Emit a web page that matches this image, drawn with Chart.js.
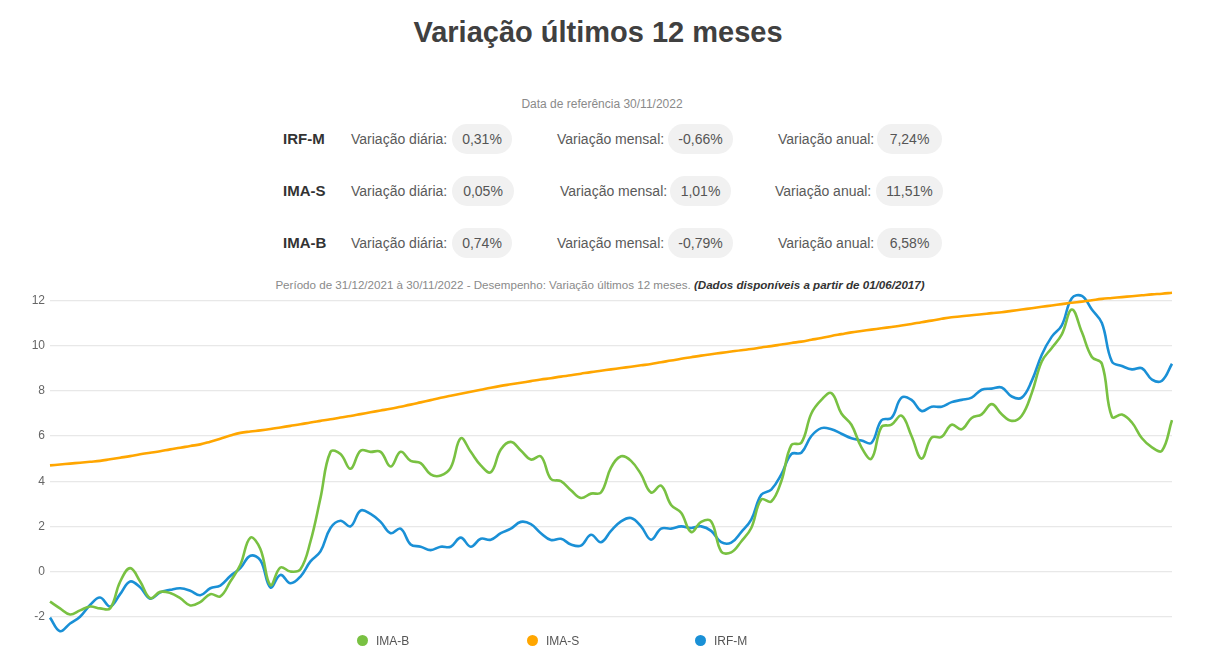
<!DOCTYPE html>
<html>
<head>
<meta charset="utf-8">
<script src="https://cdn.jsdelivr.net/npm/chart.js@4/dist/chart.umd.min.js"></script>
<style>
  html, body { margin:0; padding:0; background:#fff; }
  body { width:1212px; height:654px; position:relative; overflow:hidden; font-family:"Liberation Sans", Arial, sans-serif; color:#555; }
  .abs { position:absolute; white-space:nowrap; }
  #title { left:0; width:1196px; top:13px; text-align:center; font-size:29px; font-weight:bold; color:#404040; line-height:38px; }
  #ref { left:0; width:1204px; top:96px; text-align:center; font-size:12px; color:#8a8a8a; line-height:16px; }
  .idx { font-size:15px; font-weight:bold; color:#333; line-height:20px; }
  .lbl { font-size:14px; color:#5a5a5a; line-height:20px; }
  .pill { font-size:14px; color:#555; background:#f1f1f1; border-radius:15px; height:30px; line-height:30px; text-align:center; }
  #periodo { left:0; width:1200px; top:277px; text-align:center; font-size:11.6px; color:#8a8a8a; line-height:16px; }
  #periodo i { color:#333; font-weight:bold; }
  #chartWrap { position:absolute; left:0; top:277px; width:1212px; height:370px; }
  .leg { position:absolute; top:634px; font-size:12px; color:#555; line-height:14px; }
  .dot { position:absolute; top:635px; width:11px; height:11px; border-radius:50%; }
</style>
</head>
<body>
<div id="title" class="abs">Variação últimos 12 meses</div>
<div id="ref" class="abs">Data de referência 30/11/2022</div>
<div id="stats"></div>
<div id="periodo" class="abs">Período de 31/12/2021 à 30/11/2022 - Desempenho: Variação últimos 12 meses. <i>(Dados disponíveis a partir de 01/06/2017)</i></div>
<div id="chartWrap"><canvas id="c" width="1212" height="370"></canvas></div>
<div id="legend"></div>
<script>
// ---- Data ----
const seriesNames = ["IMA-B", "IMA-S", "IRF-M"];
const seriesColors = ["#79c142", "#ffa600", "#1a90d6"];

const statIndexes = ["IRF-M", "IMA-S", "IMA-B"];
const statDaily   = ["0,31%", "0,05%", "0,74%"];
const statMonthly = ["-0,66%", "1,01%", "-0,79%"];
const statAnnual  = ["7,24%", "11,51%", "6,58%"];

const yTicks = [-2, 0, 2, 4, 6, 8, 10, 12];

const imaB = [
  -1.33,-1.63,-1.90,-1.72,-1.55,-1.63,-1.63,-0.45,0.15,-0.44,
  -1.18,-0.90,-0.95,-1.18,-1.50,-1.35,-1.00,-1.10,-0.44,0.30,
  1.50,1.00,-0.60,0.18,0.00,0.10,1.33,3.26,5.30,5.20,
  4.55,5.35,5.30,5.30,4.65,5.30,4.90,4.80,4.30,4.25,
  4.60,5.90,5.30,4.70,4.40,5.40,5.74,5.36,4.96,5.10,
  4.10,4.00,3.60,3.26,3.45,3.50,4.60,5.10,4.90,4.30,
  3.50,3.80,2.95,2.60,1.75,2.20,2.22,0.89,0.85,1.33,
  1.93,3.19,3.10,4.00,5.60,5.70,7.00,7.60,7.90,7.00,
  6.50,5.50,5.00,6.40,6.50,6.90,6.00,5.00,5.93,5.96,
  6.50,6.30,6.80,6.96,7.41,6.96,6.67,6.90,7.90,9.30,
  9.90,10.50,11.60,10.60,9.50,9.20,6.85,6.95,6.60,5.90,
  5.50,5.35,6.70
];
const imaS = [
  4.70,4.74,4.78,4.82,4.86,4.90,4.97,5.04,5.11,5.19,
  5.26,5.33,5.41,5.48,5.56,5.63,5.75,5.88,6.02,6.14,
  6.20,6.25,6.31,6.38,6.45,6.52,6.60,6.67,6.74,6.82,
  6.89,6.97,7.05,7.13,7.21,7.30,7.39,7.49,7.59,7.69,
  7.78,7.87,7.96,8.05,8.14,8.22,8.29,8.36,8.43,8.50,
  8.56,8.63,8.69,8.76,8.83,8.89,8.95,9.01,9.07,9.13,
  9.19,9.27,9.34,9.42,9.49,9.56,9.62,9.68,9.74,9.80,
  9.85,9.92,9.98,10.05,10.12,10.18,10.26,10.34,10.43,10.51,
  10.59,10.65,10.71,10.77,10.83,10.89,10.96,11.04,11.11,11.19,
  11.26,11.30,11.35,11.39,11.44,11.48,11.54,11.60,11.66,11.72,
  11.78,11.84,11.90,11.95,12.01,12.07,12.11,12.15,12.19,12.23,
  12.27,12.30,12.34
];
const irfM = [
  -2.04,-2.64,-2.30,-2.00,-1.48,-1.15,-1.55,-1.00,-0.44,-0.70,
  -1.20,-0.92,-0.81,-0.74,-0.85,-1.05,-0.74,-0.62,-0.20,0.15,
  0.70,0.50,-0.70,-0.15,-0.52,-0.22,0.45,0.89,1.93,2.25,
  2.00,2.70,2.55,2.20,1.70,1.90,1.20,1.10,0.95,1.10,
  1.10,1.50,1.10,1.45,1.41,1.70,1.90,2.20,2.10,1.70,
  1.40,1.45,1.20,1.15,1.63,1.30,1.80,2.22,2.37,2.00,
  1.41,1.90,1.90,2.00,1.93,2.00,1.80,1.30,1.28,1.75,
  2.30,3.40,3.63,4.30,5.20,5.26,6.00,6.35,6.30,6.10,
  5.90,5.80,5.70,6.70,6.80,7.70,7.60,7.11,7.30,7.30,
  7.50,7.60,7.70,8.05,8.10,8.15,7.75,7.70,8.44,9.60,
  10.40,10.90,12.10,12.20,11.60,11.00,9.30,9.10,8.95,9.00,
  8.50,8.45,9.20
];

// category labels: observation dates across the period (not drawn)
const startDate = new Date(2021, 11, 31);
const endDate = new Date(2022, 10, 30);
const dates = imaB.map((_, i) => {
  const t = startDate.getTime() + (endDate.getTime() - startDate.getTime()) * i / (imaB.length - 1);
  const d = new Date(t);
  return String(d.getDate()).padStart(2, "0") + "/" + String(d.getMonth() + 1).padStart(2, "0") + "/" + d.getFullYear();
});

// ---- Stats block ----
const stats = document.getElementById("stats");
const rowTops = [139, 191, 243];
const layout = [
  { idx:283, d:351, dp:[452,60], m:557, mp:[668,65], a:778, ap:[877,65] },
  { idx:283, d:351, dp:[452,62], m:560, mp:[670,61], a:775, ap:[876,67] },
  { idx:283, d:351, dp:[452,60], m:557, mp:[668,65], a:778, ap:[877,65] }
];
function add(cls, text, left, top, width) {
  const el = document.createElement("div");
  el.className = "abs " + cls;
  el.textContent = text;
  el.style.left = left + "px";
  el.style.top = top + "px";
  if (width) el.style.width = width + "px";
  stats.appendChild(el);
}
statIndexes.forEach((name, i) => {
  const c = rowTops[i], L = layout[i];
  add("idx", name, L.idx, c - 10);
  add("lbl", "Variação diária:", L.d, c - 10);
  add("pill", statDaily[i], L.dp[0], c - 15, L.dp[1]);
  add("lbl", "Variação mensal:", L.m, c - 10);
  add("pill", statMonthly[i], L.mp[0], c - 15, L.mp[1]);
  add("lbl", "Variação anual:", L.a, c - 10);
  add("pill", statAnnual[i], L.ap[0], c - 15, L.ap[1]);
});

// ---- Legend ----
const legend = document.getElementById("legend");
const legDots = [357, 527, 695];
seriesNames.forEach((n, i) => {
  const d = document.createElement("div");
  d.className = "dot";
  d.style.left = legDots[i] + "px";
  d.style.background = seriesColors[i];
  legend.appendChild(d);
  const t = document.createElement("div");
  t.className = "leg";
  t.style.left = (legDots[i] + 19) + "px";
  t.textContent = n;
  legend.appendChild(t);
});

// ---- Chart ----
const seriesData = [imaB, imaS, irfM];
new Chart(document.getElementById("c"), {
  type: "line",
  data: {
    labels: dates,
    datasets: seriesNames.map((n, i) => ({
      label: n,
      data: seriesData[i],
      borderColor: seriesColors[i],
      backgroundColor: seriesColors[i],
      borderWidth: 2.6,
      pointRadius: 0,
      tension: 0.4,
      fill: false
    }))
  },
  options: {
    responsive: false,
    animation: false,
    layout: { padding: { left: 0, right: 40, top: 8.75, bottom: 7 } },
    plugins: { legend: { display: false }, title: { display: false }, tooltip: { enabled: false } },
    scales: {
      x: { display: false, offset: false },
      y: {
        min: -2.8,
        max: 12.5,
        afterBuildTicks: (scale) => { scale.ticks = yTicks.map(v => ({ value: v })); },
        afterFit: (scale) => { scale.width = 50; },
        border: { display: false },
        grid: { color: "#e8e8e8", lineWidth: 1.2, drawTicks: false },
        ticks: {
          color: "#666",
          padding: 5,
          font: { family: "Liberation Sans", size: 12 },
          callback: (v) => String(v)
        }
      }
    }
  }
});
</script>
</body>
</html>
